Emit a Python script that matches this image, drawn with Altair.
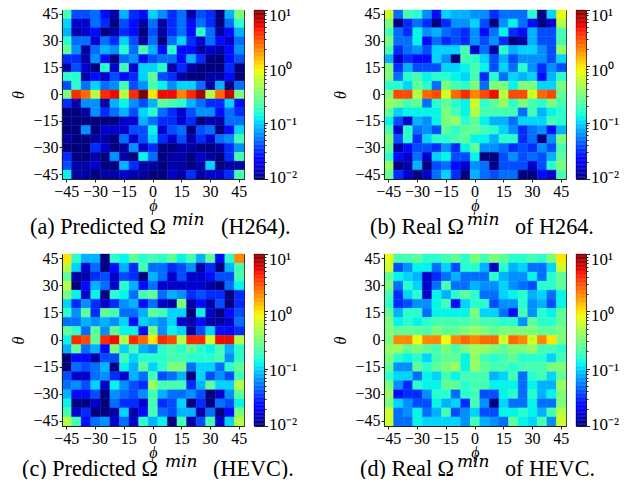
import altair as alt
import numpy as np
import pandas as pd

ANGLES = list(range(45, -50, -5))
PHI = list(range(-45, 50, 5))
TICKS = [-45, -30, -15, 0, 15, 30, 45]

# levels: 10 * (log10(value) + 2), first row is theta = 45
PANEL_A = [
 [13,6,6,7,4,2,9,5,4,10,8,5,7,2,6,5,1,9,15],
 [10,3,3,7,5,1,6,4,2,7,2,5,7,4,7,5,1,7,12],
 [9,2,3,4,1,2,5,4,1,6,2,5,7,4,12,7,2,4,9],
 [12,7,7,3,7,5,10,6,2,7,1,7,10,5,3,7,4,3,7],
 [14,8,2,7,9,8,12,7,13,9,4,12,4,4,2,3,2,4,8],
 [5,5,2,8,4,1,7,8,4,6,7,7,4,9,5,1,1,4,6],
 [2,6,3,1,12,3,13,3,10,10,12,2,5,2,1,1,1,5,1],
 [12,12,2,4,3,6,4,5,10,14,6,5,2,1,1,2,2,4,1],
 [6,12,7,10,7,8,13,6,8,13,11,8,10,10,7,2,9,1,7],
 [15,25,23,17,25,26,17,25,29,20,26,26,22,25,28,17,23,27,15],
 [5,2,8,8,2,9,11,8,6,9,14,13,12,9,7,5,5,10,4],
 [1,1,2,8,5,7,9,6,10,12,7,5,3,6,8,8,4,7,5],
 [1,1,1,1,1,1,3,3,9,7,5,5,3,5,1,2,2,7,7],
 [1,1,8,1,3,3,3,6,6,11,3,6,7,1,6,7,1,4,10],
 [2,1,1,2,2,1,7,3,6,10,5,3,6,2,5,3,7,8,13],
 [1,1,1,5,3,1,2,8,3,5,1,1,2,2,1,1,2,5,8],
 [5,1,1,2,1,8,2,1,11,7,1,2,2,1,3,2,1,5,13],
 [6,2,2,3,1,1,9,5,2,2,1,2,2,1,2,10,1,2,2],
 [11,2,2,1,2,2,3,2,2,1,1,3,2,5,2,3,3,5,13],
]
PANEL_B = [
 [18,7,13,12,8,4,10,9,9,8,8,5,7,7,7,12,1,10,19],
 [15,1,5,7,5,1,5,8,8,10,6,1,8,11,7,4,1,3,17],
 [13,7,5,11,8,9,7,6,5,8,4,7,11,5,4,9,6,6,13],
 [15,7,7,11,4,7,5,6,5,8,6,8,5,1,2,9,6,6,13],
 [13,5,7,8,6,10,10,10,13,3,7,2,12,9,10,10,8,6,16],
 [9,3,5,4,4,10,8,1,13,12,10,6,9,6,8,8,8,6,10],
 [15,5,9,6,6,6,10,10,11,13,11,6,10,7,12,8,5,8,6],
 [15,7,12,13,11,12,12,11,10,13,5,12,7,10,9,10,4,9,12],
 [12,12,10,14,12,7,15,13,12,15,7,15,15,11,15,15,10,10,15],
 [15,24,24,17,23,24,18,23,25,22,24,26,17,24,24,18,23,24,14],
 [16,15,13,14,7,12,14,12,11,18,12,14,16,12,15,13,12,15,13],
 [14,10,11,11,11,11,15,13,11,17,13,13,13,13,7,13,9,11,12],
 [11,6,3,9,8,11,15,16,12,14,11,9,9,7,10,10,10,13,12],
 [13,3,12,7,8,6,14,12,14,14,13,12,10,8,5,7,8,4,9],
 [15,6,12,5,10,12,12,13,14,11,11,9,12,12,5,7,1,8,15],
 [14,2,4,6,6,5,8,5,11,14,8,8,7,5,6,5,8,6,13],
 [12,4,3,7,3,10,11,6,6,11,1,1,6,8,6,7,6,9,14],
 [16,1,2,9,1,6,7,4,3,8,7,1,6,6,6,3,6,12,15],
 [14,5,3,1,3,7,10,5,1,9,7,6,7,7,1,1,4,3,13],
]
PANEL_C = [
 [20,12,9,9,1,12,11,14,12,13,12,14,11,13,9,14,4,12,22],
 [17,10,3,7,1,4,9,5,13,7,7,5,6,8,2,5,1,9,13],
 [14,2,2,5,6,3,6,5,1,9,7,3,6,3,3,4,6,6,13],
 [17,1,4,9,7,3,12,9,4,7,3,3,3,3,3,2,1,7,11],
 [15,11,3,11,1,12,11,7,13,14,7,9,8,5,6,5,5,1,5],
 [10,5,8,5,3,5,8,9,4,7,3,2,15,2,4,2,6,1,5],
 [12,8,14,5,14,13,7,7,9,14,13,10,10,1,11,3,1,4,6],
 [7,7,9,8,9,8,10,4,10,9,8,10,3,2,4,2,2,3,7],
 [14,12,7,14,8,14,11,11,4,15,8,11,10,2,6,10,4,4,5],
 [11,25,24,14,25,26,17,25,23,20,25,24,17,25,25,18,26,26,17],
 [9,14,7,9,4,15,10,13,9,8,12,13,12,14,12,11,13,9,12],
 [1,4,4,2,6,6,13,10,12,12,12,13,13,12,12,12,13,8,12],
 [1,7,6,7,9,1,11,9,14,10,12,15,15,7,10,10,7,12,14],
 [6,3,3,7,8,5,3,9,7,13,6,7,9,1,10,6,8,6,13],
 [7,8,6,10,3,11,8,6,5,16,13,13,13,5,9,14,10,10,17],
 [9,4,4,6,1,8,7,6,8,13,9,7,7,8,6,1,3,8,14],
 [11,1,1,3,1,7,5,5,3,13,5,6,10,1,5,1,7,6,11],
 [13,3,5,1,1,2,10,2,4,13,7,6,9,9,2,7,1,4,15],
 [17,13,4,7,8,3,7,3,12,9,11,1,13,2,6,13,3,10,17],
]
PANEL_D = [
 [19,13,13,14,12,12,13,14,12,15,13,15,14,12,12,13,12,15,20],
 [18,6,8,11,11,7,10,6,12,12,9,3,12,9,10,7,7,10,18],
 [14,11,10,9,3,5,7,9,7,7,7,12,9,8,8,11,7,12,14],
 [15,7,12,10,3,7,13,7,7,9,8,8,10,8,7,6,12,12,14],
 [13,5,10,12,3,11,9,12,14,12,7,7,10,11,12,9,10,7,11],
 [12,5,6,8,8,11,13,4,10,12,12,6,8,8,12,8,9,6,11],
 [14,9,12,12,7,11,11,11,11,15,10,10,7,4,13,8,12,11,14],
 [15,11,12,11,12,13,13,13,13,14,13,13,12,12,8,14,12,12,14],
 [15,14,14,14,13,15,14,14,15,16,15,14,15,15,15,15,14,14,15],
 [15,22,22,19,22,22,19,22,23,22,23,23,18,23,22,18,22,20,15],
 [16,16,14,15,14,13,15,13,15,16,16,15,14,15,15,16,13,13,12],
 [15,12,11,12,10,13,14,14,11,16,13,12,13,14,12,12,12,10,13],
 [14,8,8,14,12,14,15,16,11,16,14,13,13,12,13,13,13,15,15],
 [12,10,10,7,11,10,13,11,13,13,13,9,10,13,7,12,13,10,14],
 [15,8,5,12,11,11,14,14,12,13,13,11,11,11,7,11,9,9,16],
 [16,4,5,5,8,12,12,7,12,13,6,6,11,12,7,12,9,11,15],
 [15,10,8,6,6,11,9,10,5,13,8,1,10,7,7,11,7,7,15],
 [18,7,8,11,7,9,13,6,8,10,6,6,11,11,12,11,9,13,17],
 [18,7,7,11,10,10,10,10,8,13,9,8,7,14,11,10,13,8,18],
]

FONT = "Liberation Serif"
W = 182
MINUS = "replace(datum.label, '-', '\u2212')"


def jet(t):
    r = np.interp(t, [0, .35, .66, .89, 1], [0, 0, 1, 1, .5])
    g = np.interp(t, [0, .125, .375, .64, .91, 1], [0, 0, 1, 1, 0, 0])
    b = np.interp(t, [0, .11, .34, .65, 1], [.5, 1, 1, 0, 0])
    return "#%02x%02x%02x" % (int(r * 255), int(g * 255), int(b * 255))


STOPS = np.linspace(0, 1, 45)
color_scale = alt.Scale(type="log",
                        domain=[float(10 ** (3 * t - 2)) for t in STOPS],
                        range=[jet(t) for t in STOPS], clamp=True)


def heat(levels, h):
    rows = []
    for theta, row in zip(ANGLES, levels):
        for phi, lv in zip(PHI, row):
            lv = lv - 1 if lv <= 3 else (lv + 1 if lv >= 22 else lv)
            rows.append({"phi": phi, "theta": theta, "v": 10 ** (lv / 10 - 2)})
    return alt.Chart(pd.DataFrame(rows)).mark_rect(strokeWidth=0.4).encode(
        x=alt.X("phi:O", sort=PHI, scale=alt.Scale(paddingInner=0, paddingOuter=0, round=False),
                axis=alt.Axis(values=TICKS, labelAngle=0, title="ϕ", titleFontStyle="italic",
                              titlePadding=-2, labelExpr=MINUS)),
        y=alt.Y("theta:O", sort=ANGLES, scale=alt.Scale(paddingInner=0, paddingOuter=0, round=False),
                axis=alt.Axis(values=TICKS, title="θ", titleFontStyle="italic",
                              titlePadding=6, labelExpr=MINUS)),
        color=alt.Color("v:Q", scale=color_scale, legend=None),
        stroke=alt.Color("v:Q", scale=color_scale, legend=None),
    ).properties(width=W, height=h)


def colorbar(h):
    edges = np.logspace(-2, 1, 129)
    df = pd.DataFrame({"lo": edges[:-1], "hi": edges[1:],
                       "v": np.sqrt(edges[:-1] * edges[1:])})
    minor = [m * 10.0 ** e for e in (-2, -1, 0) for m in range(1, 10)] + [10.0]
    return alt.Chart(df).mark_rect(strokeWidth=0.4).encode(
        y=alt.Y("lo:Q", scale=alt.Scale(type="log", domain=[0.01, 10], nice=False),
                axis=alt.Axis(orient="right", values=minor, title=None, grid=False,
                              tickSize={"condition": {"test": "abs(log(datum.value)/LN10 - round(log(datum.value)/LN10)) < 0.001", "value": 3.5}, "value": 2},
                              labelOffset={"condition": [{"test": "datum.value == 10", "value": 5},
                                                         {"test": "datum.value == 1", "value": 4},
                                                         {"test": "datum.value == 0.1", "value": 2},
                                                         {"test": "datum.value == 0.01", "value": -2}], "value": 0},
                              labelExpr="datum.value == 0.01 ? '10\u207b\u00b2' : datum.value == 0.1 ? '10\u207b\u00b9' : datum.value == 1 ? '10\u2070' : datum.value == 10 ? '10\u00b9' : ''",
                              labelFontSize=17, labelPadding=1)),
        y2="hi:Q",
        x=alt.value(0), x2=alt.value(10),
        color=alt.Color("v:Q", scale=color_scale, legend=None),
        stroke=alt.Color("v:Q", scale=color_scale, legend=None),
    ).properties(width=10, height=h)


def sp(w, h=1):
    return alt.Chart(pd.DataFrame({"a": [0]})).mark_rule(opacity=0).encode(
        x=alt.value(0), y=alt.value(0), y2=alt.value(1)).properties(width=w, height=h, view=alt.ViewConfig(stroke=None))


def caption(parts, w, h):
    layers = []
    for text, x, y, size, style, font in parts:
        layers.append(alt.Chart(pd.DataFrame({"t": [text]})).mark_text(
            font=font, fontSize=size, fontStyle=style, align="left", baseline="alphabetic", color="black"
        ).encode(text="t:N", x=alt.value(x), y=alt.value(y)))
    return alt.layer(*layers).properties(width=w, height=h, view=alt.ViewConfig(stroke=None))


SUP = "DejaVu Serif"
X0 = 57   # page x of the grid origin
Y1, Y2 = 55, 50
TXT = 22.2
UP = 9
CAP1 = [("(a) Predicted Ω", 29 - X0, Y1, TXT, "normal", FONT), ("min", 171 - X0, Y1 - UP, 17, "italic", SUP), ("(H264).", 220 - X0, Y1, TXT, "normal", FONT),
        ("(b) Real Ω", 369 - X0, Y1, TXT, "normal", FONT), ("min", 466 - X0, Y1 - UP, 17, "italic", SUP), ("of H264.", 514 - X0, Y1, TXT, "normal", FONT)]
CAP2 = [("(c) Predicted Ω", 21 - X0, Y2, TXT, "normal", FONT), ("min", 164 - X0, Y2 - UP, 17, "italic", SUP), ("(HEVC).", 212 - X0, Y2, TXT, "normal", FONT),
        ("(d) Real Ω", 359 - X0, Y2, TXT, "normal", FONT), ("min", 456 - X0, Y2 - UP, 17, "italic", SUP), ("of HEVC.", 504 - X0, Y2, TXT, "normal", FONT)]

H1, H2 = 169, 172
cells = [sp(4), heat(PANEL_A, H1), sp(10), colorbar(H1), sp(120), heat(PANEL_B, H1), sp(10), colorbar(H1)]
cells += [caption(CAP1, 1, 75)] + [sp(1) for _ in range(7)]
cells += [sp(1), heat(PANEL_C, H2), sp(10), colorbar(H2), sp(119), heat(PANEL_D, H2), sp(10), colorbar(H2)]
cells += [caption(CAP2, 1, 50)] + [sp(1) for _ in range(7)]

chart = alt.concat(*cells, columns=8, spacing=0, bounds="flush",
                   align=alt.RowColLayoutAlign(row="each", column="none")).configure_view(
    stroke="#222", strokeWidth=1
).configure_axis(
    labelFont=FONT, titleFont=FONT, labelFontSize=16, titleFontSize=16, titleFontWeight="normal",
    labelColor="black", titleColor="black", tickColor="#222", domainColor="#222",
    tickSize=3, labelPadding=1, grid=False, labelOverlap=False
).properties(padding={"left": 2, "right": 0, "top": -5, "bottom": -2}, background="white")

chart.save("out.html", embed_options={"renderer": "svg", "actions": False})
